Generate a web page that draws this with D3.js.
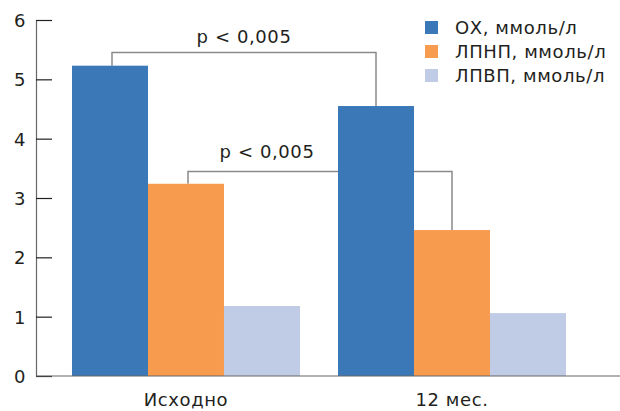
<!DOCTYPE html>
<html><head><meta charset="utf-8">
<script src="https://cdn.jsdelivr.net/npm/d3@7"></script>
<style>body{margin:0;background:#fff}svg{display:block}</style>
</head><body><svg id="c" width="620" height="411"></svg>
<script>
const categories = ["Исходно", "12 мес."];
const seriesNames = ["ОХ, ммоль/л", "ЛПНП, ммоль/л", "ЛПВП, ммоль/л"];
const colors = ["#3a78b8", "#f79c4f", "#c0cce5"];
const ox = [5.23, 4.55];
const ldl = [3.24, 2.46];
const hdl = [1.18, 1.06];
const yTicks = [0, 1, 2, 3, 4, 5, 6];
const pLabel = "p < 0,005";

const FONT = "'DejaVu Sans', 'Liberation Serif', serif";
const values = [ox, ldl, hdl];
const svg = d3.select("#c");
const y = d3.scaleLinear().domain([0, 6]).range([376, 20]);
const x0 = d3.scaleBand().domain(categories).range([53, 585]).paddingInner(0.1429).paddingOuter(0.0714);
const x1 = d3.scaleBand().domain(seriesNames).range([0, x0.bandwidth()]);
const cx = (s, c) => x0(categories[c]) + x1(seriesNames[s]) + x1.bandwidth() / 2;

function txt(sel) {
  return sel.style("font-family", FONT).attr("fill", "#231f20").attr("font-size", 18).attr("letter-spacing", 0.6);
}

// brackets (behind bars)
const br = svg.append("g").attr("fill", "none").attr("stroke", "#8a8a8a").attr("stroke-width", 1.5);
function bracket(s, yTop, tx, ty) {
  const xa = cx(s, 0) + 2, xb = cx(s, 1);
  br.append("path").attr("d", `M${xa},${y(values[s][0])}V${yTop}H${xb}V${y(values[s][1])}`);
  txt(svg.append("text")).attr("x", tx).attr("y", ty).attr("text-anchor", "middle").text(pLabel);
}
bracket(0, 52.5, 244, 43);
bracket(1, 171.5, 267, 158);

// bars
seriesNames.forEach((s, i) => {
  svg.append("g").attr("fill", colors[i]).selectAll("rect").data(values[i]).join("rect")
    .attr("x", (d, c) => x0(categories[c]) + x1(s))
    .attr("width", x1.bandwidth())
    .attr("y", d => y(d))
    .attr("height", d => y(0) - y(d));
});

// y axis
const ya = svg.append("g").attr("transform", "translate(36,0)")
  .call(d3.axisLeft(y).tickValues(yTicks).tickFormat(d3.format("d")).tickSizeInner(-16).tickSizeOuter(0).tickPadding(10));
ya.select(".domain").attr("stroke", "#666").attr("stroke-width", 1.2);
ya.selectAll(".tick line").attr("stroke", "#231f20").attr("stroke-width", 1.2);
txt(ya.selectAll(".tick text")).attr("dy", "0.36em");

// x axis
svg.append("line").attr("x1", 36).attr("x2", 620).attr("y1", y(0)).attr("y2", y(0)).attr("stroke", "#666").attr("stroke-width", 1.2);
txt(svg.append("g").selectAll("text").data(categories).join("text"))
  .attr("x", d => x0(d) + x0.bandwidth() / 2).attr("y", 406)
  .attr("text-anchor", "middle").text(d => d);

// legend
const lg = svg.append("g").attr("transform", "translate(425,21)");
seriesNames.forEach((s, i) => {
  const g = lg.append("g").attr("transform", `translate(0,${i * 24})`);
  g.append("rect").attr("width", 13).attr("height", 13).attr("fill", colors[i]);
  txt(g.append("text")).attr("x", 30).attr("y", 13).text(s);
});
</script></body></html>
